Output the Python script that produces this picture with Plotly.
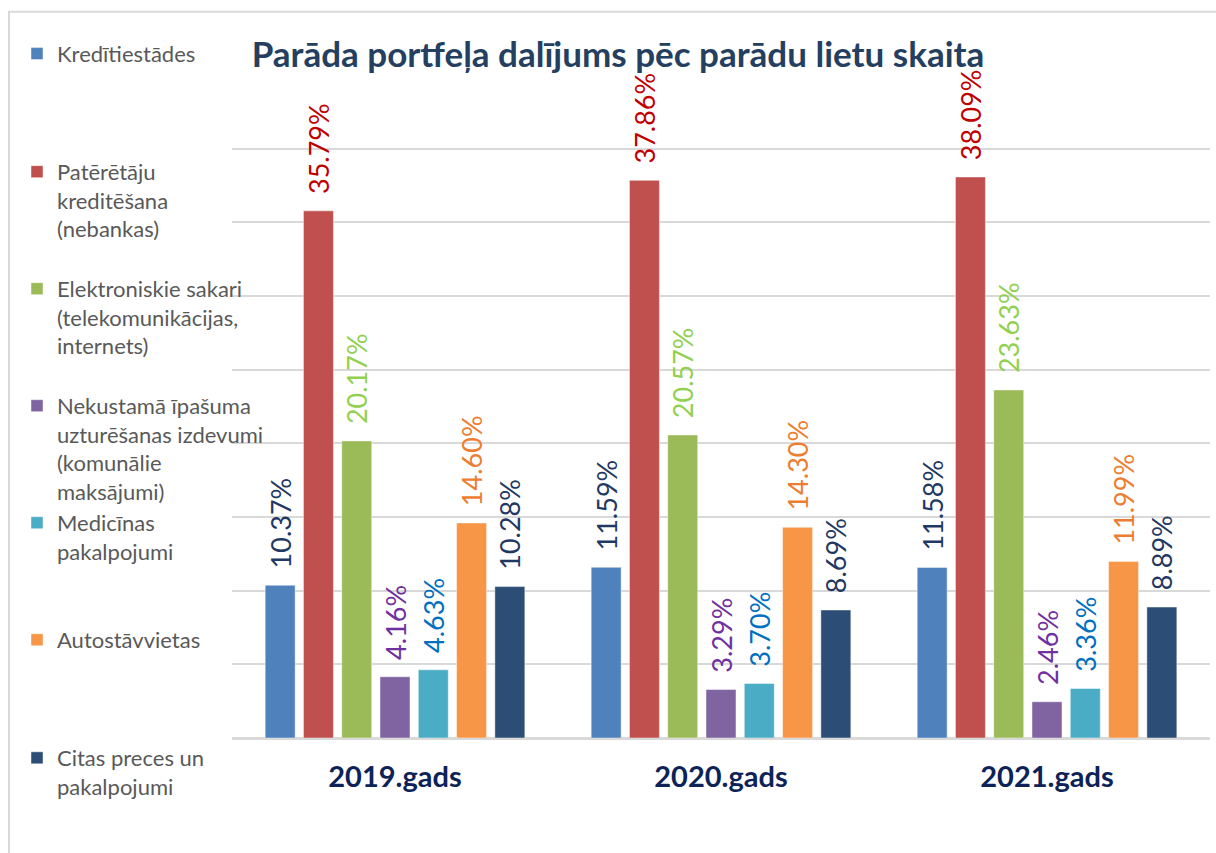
import plotly.graph_objects as go

# ---- data ----
categories = ["2019.gads", "2020.gads", "2021.gads"]
series_names = [
    "Kredītiestādes",
    "Patērētāju<br>kreditēšana<br>(nebankas)",
    "Elektroniskie sakari<br>(telekomunikācijas,<br>internets)",
    "Nekustamā īpašuma<br>uzturēšanas izdevumi<br>(komunālie<br>maksājumi)",
    "Medicīnas<br>pakalpojumi",
    "Autostāvvietas",
    "Citas preces un<br>pakalpojumi",
]
kreditiestades = [10.37, 11.59, 11.58]
pateretaju = [35.79, 37.86, 38.09]
elektroniskie = [20.17, 20.57, 23.63]
nekustama = [4.16, 3.29, 2.46]
medicinas = [4.63, 3.70, 3.36]
autostavvietas = [14.60, 14.30, 11.99]
citas = [10.28, 8.69, 8.89]
series_values = [kreditiestades, pateretaju, elektroniskie, nekustama,
                 medicinas, autostavvietas, citas]

title_text = "Parāda portfeļa dalījums pēc parādu lietu skaita"

# ---- styles ----
bar_colors = ["#4F81BD", "#C0504D", "#9BBB59", "#8064A2", "#4BACC6", "#F79646", "#2C4D75"]
label_colors = ["#1F3864", "#C00000", "#92D050", "#7030A0", "#0070C0", "#ED7D31", "#1F3864"]

W, H = 1216, 853
Y_MAX = 40.6
# screen-space targets: 0% at y=738, 40% at y=149
px_per_unit = (738 - 149) / 40.0
plot_left_s, plot_right_s, plot_bottom_s = 232, 1210, 738
plot_top_s = plot_bottom_s - Y_MAX * px_per_unit
L = plot_left_s
R = W - plot_right_s
T = plot_top_s
B = H - plot_bottom_s
plot_h = H - T - B
plot_w = W - L - R

def py2paper(py):
    return (H - B - py) / plot_h

def px2paper(px):
    return (px - L) / plot_w

legend_first_line_px = [52, 170, 287, 404, 521, 638, 756]

fig = go.Figure()
for i, (name, vals) in enumerate(zip(series_names, series_values)):
    lg = "legend" if i == 0 else f"legend{i+1}"
    fig.add_trace(go.Bar(
        x=categories, y=vals, name=name,
        marker=dict(color=bar_colors[i], line=dict(color="rgba(255,255,255,0.45)", width=1)),
        texttemplate="\u00a0\u00a0%{y:.2f}%",
        textposition="outside", textangle=-90,
        outsidetextfont=dict(family="Lato", size=27, color=label_colors[i]),
        constraintext="none", cliponaxis=False,
        legend=lg,
    ))

legend_layouts = {}
for i, ypx in enumerate(legend_first_line_px):
    key = "legend" if i == 0 else f"legend{i+1}"
    legend_layouts[key] = dict(
        x=px2paper(17), xanchor="left",
        y=py2paper(ypx - 19), yanchor="top",
        bgcolor="rgba(0,0,0,0)", borderwidth=0,
        font=dict(family="Lato", size=22, color="#595959"),
        valign="top", itemclick=False,
    )

fig.update_layout(
    width=W, height=H,
    margin=dict(l=L, r=R, t=T, b=B),
    paper_bgcolor="white", plot_bgcolor="white",
    barmode="group", bargap=0.178, bargroupgap=0.217,
    title=dict(text=f"<b>{title_text}</b>", x=618 / W, xanchor="center",
               y=1 - 55 / H, yanchor="middle",
               font=dict(family="Lato", size=35, color="#243F60")),
    xaxis=dict(showline=False, showgrid=False, ticks="outside", ticklen=13,
               tickcolor="rgba(0,0,0,0)",
               tickfont=dict(family="Lato", size=29, color="#0D2358", weight="bold")),
    yaxis=dict(range=[0, Y_MAX], tickmode="linear", tick0=0, dtick=5,
               showticklabels=False, showgrid=True,
               gridcolor="#D9D9D9", gridwidth=1.5, zeroline=True,
               zerolinecolor="#D9D9D9", zerolinewidth=2.5, fixedrange=True),
    showlegend=True,
    **legend_layouts,
)

# outer frame (top and left edges visible)
fig.add_shape(type="line", xref="paper", yref="paper",
              x0=px2paper(8), x1=px2paper(W + 20), y0=py2paper(12), y1=py2paper(12),
              line=dict(color="#D9D9D9", width=2))
fig.add_shape(type="line", xref="paper", yref="paper",
              x0=px2paper(9), x1=px2paper(9), y0=py2paper(12), y1=py2paper(H + 20),
              line=dict(color="#D9D9D9", width=2))

fig.write_html("out.html", config={"displayModeBar": False},
               post_script="document.body.style.margin='0';document.body.style.overflow='hidden';")
